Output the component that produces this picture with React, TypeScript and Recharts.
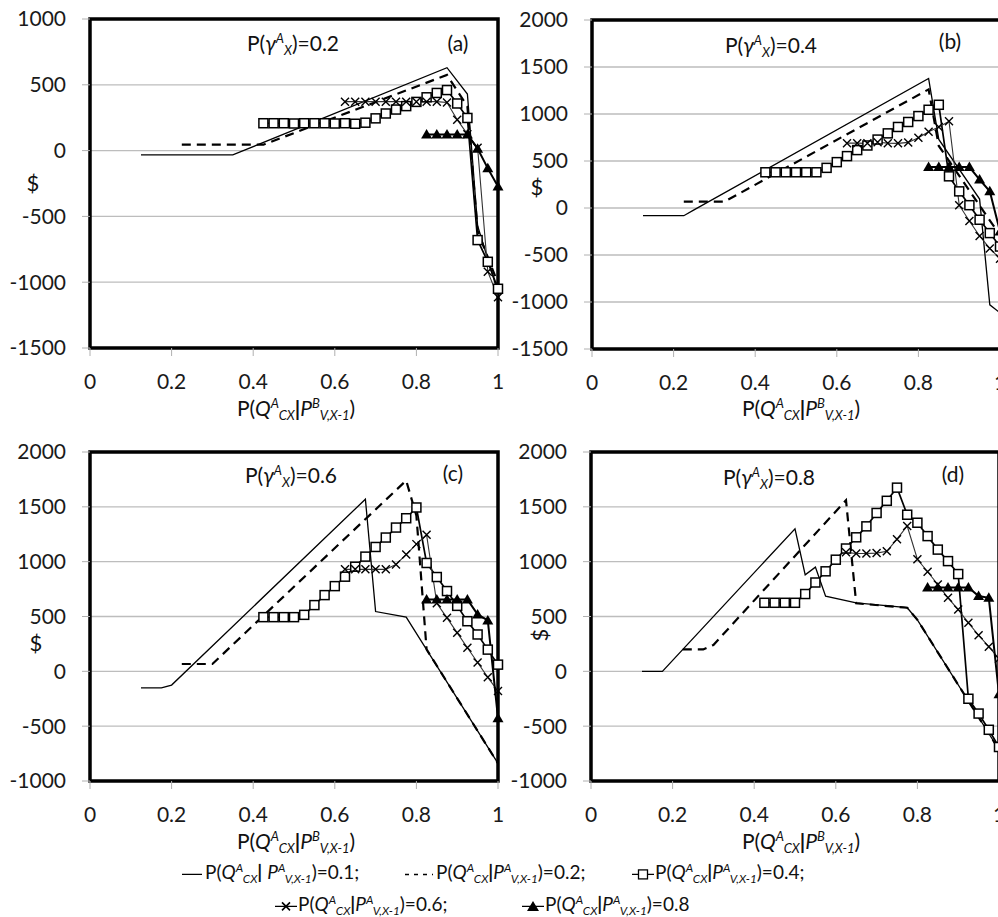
import React from "react";
import { LineChart, Line, XAxis, YAxis, CartesianGrid, ReferenceArea } from "recharts";

const FONT = "Lato, 'Open Sans', sans-serif";

// ─── Axes ────────────────────────────────────────────────────────────────────
const X_TICKS = [0, 0.2, 0.4, 0.6, 0.8, 1];
const Y_TICKS_A = [-1500, -1000, -500, 0, 500, 1000];
const Y_TICKS_B = [-1500, -1000, -500, 0, 500, 1000, 1500, 2000];
const Y_TICKS_CD = [-1000, -500, 0, 500, 1000, 1500, 2000];

// x grids of the marker series
const X_P04 = [0.425, 0.45, 0.475, 0.5, 0.525, 0.55, 0.575, 0.6, 0.625, 0.65, 0.675, 0.7, 0.725, 0.75, 0.775, 0.8, 0.825, 0.85, 0.875, 0.9, 0.925, 0.95, 0.975, 1];
const X_P06 = [0.625, 0.65, 0.675, 0.7, 0.725, 0.75, 0.775, 0.8, 0.825, 0.85, 0.875, 0.9, 0.925, 0.95, 0.975, 1];
const X_P08 = [0.825, 0.85, 0.875, 0.9, 0.925, 0.95, 0.975, 1];

// ─── (a) P(γ)=0.2 ───────────────────────────────────────────────────────────
const A_P01_X = [0.125, 0.35, 0.875, 0.925, 0.95, 1];
const A_P01_Y = [-33, -33, 630, 430, -570, -1080];
const A_P02_X = [0.225, 0.425, 0.875, 0.925, 0.95, 1];
const A_P02_Y = [45, 45, 575, 335, -610, -1010];
const A_P04_Y = [208, 208, 208, 206, 208, 208, 208, 206, 208, 204, 212, 245, 282, 312, 338, 370, 405, 438, 460, 358, 248, -680, -845, -1050];
const A_P06_Y = [372, 372, 372, 372, 372, 372, 372, 372, 372, 372, 365, 235, 125, 22, -920, -1115];
const A_P08_Y = [122, 122, 122, 122, 122, 15, -135, -273];

// ─── (b) P(γ)=0.4 ───────────────────────────────────────────────────────────
const B_P01_X = [0.125, 0.225, 0.25, 0.825, 0.85, 0.95, 0.975, 1];
const B_P01_Y = [-82, -82, -20, 1378, 730, 95, -1030, -1115];
const B_P02_X = [0.225, 0.325, 0.825, 0.85, 1];
const B_P02_Y = [68, 68, 1262, 660, -290];
const B_P04_Y = [380, 380, 380, 380, 380, 380, 427, 488, 552, 616, 665, 728, 794, 862, 915, 978, 1045, 1098, 337, 177, 30, -125, -267, -410];
const B_P06_Y = [690, 690, 688, 700, 690, 688, 698, 748, 810, 862, 922, 30, -138, -298, -430, -540];
const B_P08_Y = [435, 435, 435, 435, 435, 302, 178, -250];

// ─── (c) P(γ)=0.6 ───────────────────────────────────────────────────────────
const C_P01_X = [0.125, 0.175, 0.2, 0.675, 0.7, 0.775, 1];
const C_P01_Y = [-150, -150, -125, 1570, 545, 495, -840];
const C_P02_X = [0.225, 0.3, 0.775, 0.8, 0.825, 1];
const C_P02_Y = [67, 67, 1740, 1420, 200, -840];
const C_P04_Y = [494, 494, 494, 494, 515, 604, 695, 777, 863, 954, 1046, 1134, 1220, 1311, 1396, 1494, 988, 860, 732, 597, 457, 336, 198, 61];
const C_P06_Y = [930, 930, 930, 930, 930, 975, 1065, 1160, 1245, 620, 488, 351, 215, 80, -55, -180];
const C_P08_Y = [656, 656, 656, 656, 656, 519, 464, -427];

// ─── (d) P(γ)=0.8 ───────────────────────────────────────────────────────────
const D_P01_X = [0.125, 0.175, 0.5, 0.525, 0.55, 0.575, 0.65, 0.775, 0.8, 1];
const D_P01_Y = [0, 0, 1300, 880, 950, 685, 625, 580, 470, -715];
const D_P02_X = [0.225, 0.275, 0.3, 0.625, 0.65, 0.775, 0.8, 1];
const D_P02_Y = [200, 200, 240, 1560, 620, 580, 470, -715];
const D_P04_Y = [625, 625, 625, 625, 705, 810, 912, 1018, 1120, 1222, 1322, 1444, 1555, 1675, 1428, 1355, 1233, 1110, 1005, 887, -250, -385, -533, -690];
const D_P06_Y = [1085, 1075, 1075, 1078, 1095, 1205, 1325, 1022, 908, 792, 670, 563, 442, 329, 225, 115];
const D_P08_Y = [765, 765, 765, 765, 765, 686, 670, -210];

const LEGEND_VALUES = ["0.1", "0.2", "0.4", "0.6", "0.8"];

type Pt = { x: number; y: number };
const pts = (xs: number[], ys: number[]): Pt[] => xs.map((x, i) => ({ x, y: ys[i] }));

// ─── Markers ────────────────────────────────────────────────────────────────
const squareDot = (p: any) => (
  <rect key={`sq${p.index}`} x={p.cx - 4.5} y={p.cy - 4.5} width={9} height={9} fill="#fff" stroke="#000" strokeWidth={1.5} />
);
const crossDot = (p: any) => (
  <path
    key={`cr${p.index}`}
    d={`M${p.cx - 4},${p.cy - 4}L${p.cx + 4},${p.cy + 4}M${p.cx + 4},${p.cy - 4}L${p.cx - 4},${p.cy + 4}`}
    stroke="#000"
    strokeWidth={1.4}
    fill="none"
  />
);
const triDot = (p: any) => (
  <path key={`tr${p.index}`} d={`M${p.cx},${p.cy - 5.5}L${p.cx + 5.5},${p.cy + 4}L${p.cx - 5.5},${p.cy + 4}Z`} fill="#000" />
);

type PanelDef = {
  tag: string;
  gamma: string;
  left: number;
  top: number;
  yDomain: [number, number];
  yTicks: number[];
  s01: Pt[];
  s02: Pt[];
  s04: Pt[];
  s06: Pt[];
  s08: Pt[];
};

const PANELS: PanelDef[] = [
  {
    tag: "a", gamma: "0.2", left: 0, top: -1, yDomain: [-1500, 1000], yTicks: Y_TICKS_A,
    s01: pts(A_P01_X, A_P01_Y), s02: pts(A_P02_X, A_P02_Y), s04: pts(X_P04, A_P04_Y), s06: pts(X_P06, A_P06_Y), s08: pts(X_P08, A_P08_Y),
  },
  {
    tag: "b", gamma: "0.4", left: 502, top: 0, yDomain: [-1500, 2000], yTicks: Y_TICKS_B,
    s01: pts(B_P01_X, B_P01_Y), s02: pts(B_P02_X, B_P02_Y), s04: pts(X_P04, B_P04_Y), s06: pts(X_P06, B_P06_Y), s08: pts(X_P08, B_P08_Y),
  },
  {
    tag: "c", gamma: "0.6", left: 0, top: 432, yDomain: [-1000, 2000], yTicks: Y_TICKS_CD,
    s01: pts(C_P01_X, C_P01_Y), s02: pts(C_P02_X, C_P02_Y), s04: pts(X_P04, C_P04_Y), s06: pts(X_P06, C_P06_Y), s08: pts(X_P08, C_P08_Y),
  },
  {
    tag: "d", gamma: "0.8", left: 501, top: 432, yDomain: [-1000, 2000], yTicks: Y_TICKS_CD,
    s01: pts(D_P01_X, D_P01_Y), s02: pts(D_P02_X, D_P02_Y), s04: pts(X_P04, D_P04_Y), s06: pts(X_P06, D_P06_Y), s08: pts(X_P08, D_P08_Y),
  },
];

const tickStyle = { fontSize: 21, fill: "#1a1a1a", fontFamily: FONT };

function Panel({ p }: { p: PanelDef }) {
  return (
    <div style={{ position: "absolute", left: p.left, top: p.top }}>
      <LineChart width={512} height={409} margin={{ top: 20, right: 14, bottom: 10, left: 10 }} style={{ fontFamily: FONT }}>
        <CartesianGrid vertical={false} stroke="#bdbdbd" strokeWidth={1.3} />
        <XAxis
          type="number"
          dataKey="x"
          domain={[0, 1]}
          ticks={X_TICKS}
          interval={0}
          axisLine={false}
          tickLine={{ stroke: "#b0b0b0" }}
          tickSize={8}
          tickMargin={18}
          height={50}
          tick={tickStyle}
        />
        <YAxis
          type="number"
          dataKey="y"
          domain={p.yDomain}
          ticks={p.yTicks}
          interval={0}
          axisLine={false}
          tickLine={{ stroke: "#b0b0b0" }}
          tickSize={8}
          tickMargin={16}
          width={80}
          tick={tickStyle}
        />
        <Line data={p.s01} dataKey="y" stroke="#000" strokeWidth={1.3} dot={false} activeDot={false} isAnimationActive={false} />
        <Line data={p.s02} dataKey="y" stroke="#000" strokeWidth={2.2} strokeDasharray="9 6" dot={false} activeDot={false} isAnimationActive={false} />
        <Line data={p.s04} dataKey="y" stroke="#000" strokeWidth={1.7} dot={squareDot} activeDot={false} isAnimationActive={false} />
        <Line data={p.s06} dataKey="y" stroke="#333" strokeWidth={1.1} dot={crossDot} activeDot={false} isAnimationActive={false} />
        <Line data={p.s08} dataKey="y" stroke="#000" strokeWidth={2} dot={triDot} activeDot={false} isAnimationActive={false} />
        <ReferenceArea x1={0} x2={1} y1={p.yDomain[0]} y2={p.yDomain[1]} fill="none" fillOpacity={0} stroke="#000" strokeWidth={3.5} />
      </LineChart>
    </div>
  );
}

// ─── Text helpers ───────────────────────────────────────────────────────────
const sup = (t: string) => (
  <span style={{ fontSize: "0.62em", position: "relative", top: "-0.6em", fontStyle: "italic" }}>{t}</span>
);
const sub = (t: string) => (
  <span style={{ fontSize: "0.62em", position: "relative", top: "0.32em", fontStyle: "italic" }}>{t}</span>
);

const XTitle = () => (
  <span>
    P(<i>Q</i>
    {sup("A")}
    {sub("CX")}
    <b>|</b>
    <i>P</i>
    {sup("B")}
    {sub("V,X-1")})
  </span>
);

function Abs({ x, y, size = 21, children, rotate }: { x: number; y: number; size?: number; children: React.ReactNode; rotate?: number }) {
  return (
    <div
      style={{
        position: "absolute",
        left: x,
        top: y,
        transform: `translate(-50%, -50%)${rotate ? ` rotate(${rotate}deg)` : ""}`,
        fontSize: size,
        lineHeight: 1,
        whiteSpace: "nowrap",
        color: "#111",
      }}
    >
      {children}
    </div>
  );
}

const TITLE_POS = [
  { t: [293, 43], tag: [458, 42], dollar: [33, 183], xt: [296, 408] },
  { t: [771, 45], tag: [950, 40], dollar: [537, 187], xt: [801, 408] },
  { t: [291, 475], tag: [453, 472], dollar: [36, 643], xt: [296, 841] },
  { t: [769, 477], tag: [953, 473], dollar: [540, 635], xt: [801, 841] },
];

// ─── Legend ─────────────────────────────────────────────────────────────────
function LegendIcon({ k }: { k: number }) {
  return (
    <svg width={k === 1 ? 30 : 22} height={14} style={{ verticalAlign: "middle", marginRight: 1 }}>
      {k === 0 && <line x1={0} y1={7} x2={20} y2={7} stroke="#000" strokeWidth={1.3} />}
      {k === 1 && <line x1={0} y1={7} x2={28} y2={7} stroke="#000" strokeWidth={1.5} strokeDasharray="4 5" />}
      {k >= 2 && <line x1={0} y1={7} x2={22} y2={7} stroke="#000" strokeWidth={1.4} />}
      {k === 2 && <rect x={6.5} y={2.5} width={9} height={9} fill="#fff" stroke="#000" strokeWidth={1.3} />}
      {k === 3 && <path d="M7,3L15,11M15,3L7,11" stroke="#000" strokeWidth={1.6} />}
      {k === 4 && <path d="M11,1.5L17,11.5L5,11.5Z" fill="#000" />}
    </svg>
  );
}

const LEGEND_POS = [
  [182, 872],
  [405, 872],
  [632, 872],
  [275, 904],
  [522, 904],
];

function LegendItem({ k }: { k: number }) {
  const [x, y] = LEGEND_POS[k];
  return (
    <div style={{ position: "absolute", left: x, top: y, transform: "translateY(-50%)", fontSize: 19, lineHeight: 1, whiteSpace: "nowrap", color: "#111" }}>
      <LegendIcon k={k} />
      P(<i>Q</i>
      {sup("A")}
      {sub("CX")}
      <b>|</b>
      {k === 0 ? " " : ""}
      <i>P</i>
      {sup("A")}
      {sub("V,X-1")})={LEGEND_VALUES[k]}
      {k < 4 ? ";" : ""}
    </div>
  );
}

export default function App() {
  return (
    <div style={{ position: "absolute", left: 0, top: 0, width: 998, height: 917, overflow: "hidden", background: "#fff", fontFamily: FONT }}>
      {PANELS.map((p) => (
        <Panel key={p.tag} p={p} />
      ))}
      {PANELS.map((p, i) => {
        const pos = TITLE_POS[i];
        return (
          <React.Fragment key={`t${p.tag}`}>
            <Abs x={pos.t[0]} y={pos.t[1]}>
              P(<i>γ</i>
              {sup("A")}
              {sub("X")})={p.gamma}
            </Abs>
            <Abs x={pos.tag[0]} y={pos.tag[1]}>({p.tag})</Abs>
            <Abs x={pos.dollar[0]} y={pos.dollar[1]} size={22} rotate={p.tag === "d" ? -90 : 0}>
              $
            </Abs>
            <Abs x={pos.xt[0]} y={pos.xt[1]}>
              <XTitle />
            </Abs>
          </React.Fragment>
        );
      })}
      {LEGEND_VALUES.map((_, k) => (
        <LegendItem key={k} k={k} />
      ))}
    </div>
  );
}
